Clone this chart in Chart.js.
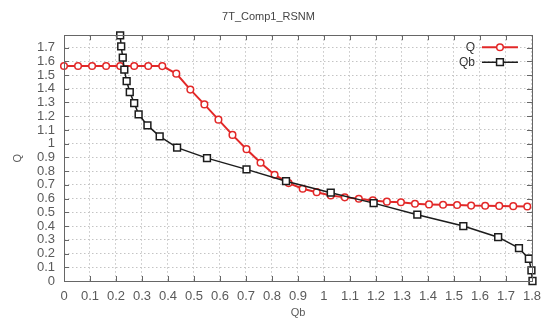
<!DOCTYPE html>
<html>
<head>
<meta charset="utf-8">
<script src="https://cdn.jsdelivr.net/npm/chart.js@4.4.1/dist/chart.umd.min.js"></script>
<style>
  html, body { margin: 0; padding: 0; background: #fff; }
  #wrap { width: 549px; height: 322px; position: relative; }
</style>
</head>
<body>
<div id="wrap"><canvas id="c" width="549" height="322"></canvas></div>
<script>
// ---- data ----
const chartTitle = '7T_Comp1_RSNM';
const xAxisTitle = 'Qb';
const yAxisTitle = 'Q';

const seriesNames = ['Q', 'Qb'];

const qX = [0, 0.054, 0.108, 0.162, 0.216, 0.27, 0.324, 0.378, 0.432, 0.486,
            0.54, 0.594, 0.648, 0.702, 0.756, 0.81, 0.864, 0.918, 0.972, 1.026,
            1.08, 1.134, 1.188, 1.242, 1.296, 1.35, 1.404, 1.458, 1.512, 1.566,
            1.62, 1.674, 1.728, 1.782];
const qY = [1.566, 1.566, 1.566, 1.566, 1.566, 1.566, 1.566, 1.565, 1.51, 1.394,
            1.286, 1.175, 1.064, 0.96, 0.861, 0.774, 0.713, 0.672, 0.647, 0.623,
            0.609, 0.599, 0.587, 0.578, 0.574, 0.563, 0.558, 0.555, 0.553, 0.549,
            0.548, 0.547, 0.545, 0.543];

const qbX = [0.216, 0.220, 0.226, 0.232, 0.241, 0.253, 0.270, 0.287, 0.321, 0.368,
             0.435, 0.550, 0.702, 0.854, 1.026, 1.191, 1.359, 1.536, 1.670, 1.750,
             1.788, 1.798, 1.802];
const qbY = [1.789, 1.709, 1.627, 1.539, 1.456, 1.376, 1.296, 1.214, 1.133, 1.053,
             0.971, 0.895, 0.813, 0.727, 0.643, 0.567, 0.483, 0.400, 0.319, 0.239,
             0.162, 0.077, 0.0];

const xTicks = [0, 0.1, 0.2, 0.3, 0.4, 0.5, 0.6, 0.7, 0.8, 0.9, 1, 1.1, 1.2, 1.3, 1.4, 1.5, 1.6, 1.7, 1.8];
const xTickLabels = ['0', '0.1', '0.2', '0.3', '0.4', '0.5', '0.6', '0.7', '0.8', '0.9', '1', '1.1', '1.2', '1.3', '1.4', '1.5', '1.6', '1.7', '1.8'];
const yTicks = [0, 0.1, 0.2, 0.3, 0.4, 0.5, 0.6, 0.7, 0.8, 0.9, 1, 1.1, 1.2, 1.3, 1.4, 1.5, 1.6, 1.7];
const yTickLabels = ['0', '0.1', '0.2', '0.3', '0.4', '0.5', '0.6', '0.7', '0.8', '0.9', '1', '1.1', '1.2', '1.3', '1.4', '1.5', '1.6', '1.7'];
const xMin = 0, xMax = 1.8, yMin = 0, yMax = 1.79;

// ---- styles ----
const RED = 'rgb(226,40,40)';
const BLACK = '#1c1c1c';
const FONT = '"Liberation Sans", Arial, sans-serif';
const TEXT = '#5a5a5a';
const BORDER = '#666';

const toPts = (xs, ys) => xs.map((x, i) => ({ x: x, y: ys[i] }));

// Frame + inward ticks (gnuplot style)
const framePlugin = {
  id: 'frame',
  afterDraw(chart) {
    const { ctx, chartArea: a, scales } = chart;
    ctx.save();
    ctx.strokeStyle = BORDER;
    ctx.lineWidth = 1;
    ctx.setLineDash([]);
    const L = 5;
    ctx.beginPath();
    scales.x.ticks.forEach(t => {
      const px = Math.round(scales.x.getPixelForValue(t.value)) + 0.5;
      ctx.moveTo(px, a.bottom); ctx.lineTo(px, a.bottom - L);
      ctx.moveTo(px, a.top); ctx.lineTo(px, a.top + L);
    });
    scales.y.ticks.forEach(t => {
      const py = Math.round(scales.y.getPixelForValue(t.value)) + 0.5;
      ctx.moveTo(a.left, py); ctx.lineTo(a.left + L, py);
      ctx.moveTo(a.right, py); ctx.lineTo(a.right - L, py);
    });
    ctx.stroke();
    ctx.strokeRect(Math.round(a.left) + 0.5, Math.round(a.top) + 0.5,
                   Math.round(a.right - a.left), Math.round(a.bottom - a.top));
    ctx.restore();
  }
};

// Legend inside the plot, top-right (gnuplot style)
const legendPlugin = {
  id: 'insideLegend',
  afterDraw(chart) {
    const { ctx, chartArea: a } = chart;
    ctx.save();
    ctx.font = '12px ' + FONT;
    ctx.textAlign = 'right';
    ctx.textBaseline = 'middle';
    chart.data.datasets.forEach((ds, i) => {
      const y = a.top + 12 + i * 15;
      const textX = a.right - 57;
      const x1 = a.right - 50, x2 = a.right - 14, xm = (x1 + x2) / 2;
      ctx.fillStyle = '#333';
      ctx.fillText(ds.label, textX, y);
      ctx.strokeStyle = ds.borderColor;
      ctx.lineWidth = ds.borderWidth;
      ctx.beginPath(); ctx.moveTo(x1, y); ctx.lineTo(x2, y); ctx.stroke();
      ctx.fillStyle = ds.pointBackgroundColor;
      ctx.strokeStyle = ds.borderColor;
      ctx.lineWidth = ds.pointBorderWidth;
      ctx.beginPath();
      if (ds.pointStyle === 'rect') {
        const s = ds.pointRadius * Math.SQRT1_2;
        ctx.rect(xm - s, y - s, 2 * s, 2 * s);
      } else {
        ctx.arc(xm, y, ds.pointRadius, 0, Math.PI * 2);
      }
      ctx.fill(); ctx.stroke();
    });
    ctx.restore();
  }
};

new Chart(document.getElementById('c'), {
  type: 'line',
  data: {
    datasets: [
      {
        label: seriesNames[0],
        data: toPts(qX, qY),
        borderColor: RED,
        backgroundColor: RED,
        borderWidth: 2,
        pointStyle: 'circle',
        pointRadius: 3.3,
        pointBorderWidth: 1.5,
        pointBackgroundColor: '#fff',
        pointBorderColor: RED,
        tension: 0,
        clip: false,
        order: 1
      },
      {
        label: seriesNames[1],
        data: toPts(qbX, qbY),
        borderColor: BLACK,
        backgroundColor: BLACK,
        borderWidth: 1.5,
        pointStyle: 'rect',
        pointRadius: 4.8,
        pointBorderWidth: 1.5,
        pointBackgroundColor: '#fff',
        pointBorderColor: BLACK,
        tension: 0,
        clip: false,
        order: 0
      }
    ]
  },
  options: {
    responsive: false,
    animation: false,
    devicePixelRatio: 1,
    layout: { padding: { left: 0, right: 12, top: 0, bottom: 0 } },
    plugins: {
      legend: { display: false },
      tooltip: { enabled: false },
      title: {
        display: true,
        text: chartTitle,
        color: '#444',
        font: { family: FONT, size: 11, weight: 'normal' },
        padding: { top: 10, bottom: 12 }
      }
    },
    scales: {
      x: {
        type: 'linear',
        min: xMin, max: xMax,
        afterBuildTicks: s => { s.ticks = xTicks.map(v => ({ value: v })); },
        afterFit: s => { s.height = 41; },
        grid: { color: '#c4c4c4', lineWidth: 1, drawTicks: false },
        border: { display: false, dash: [1.5, 2.5] },
        ticks: {
          padding: 8,
          color: TEXT,
          font: { family: FONT, size: 13 },
          maxRotation: 0,
          autoSkip: false,
          callback: (v, i) => xTickLabels[i]
        },
        title: {
          display: true, text: xAxisTitle, color: TEXT,
          font: { family: FONT, size: 11 },
          padding: { top: 0, bottom: 2.5 }
        }
      },
      y: {
        type: 'linear',
        min: yMin, max: yMax,
        afterBuildTicks: s => { s.ticks = yTicks.map(v => ({ value: v })); },
        afterFit: s => { s.width = 64; },
        grid: { color: '#c4c4c4', lineWidth: 1, drawTicks: false },
        border: { display: false, dash: [1.5, 2.5] },
        ticks: {
          padding: 9,
          color: TEXT,
          font: { family: FONT, size: 13 },
          autoSkip: false,
          callback: (v, i) => yTickLabels[i]
        },
        title: {
          display: true, text: yAxisTitle, color: TEXT,
          font: { family: FONT, size: 11 },
          padding: { top: 11.5, bottom: 0 }
        }
      }
    }
  },
  plugins: [framePlugin, legendPlugin]
});
</script>
</body>
</html>
